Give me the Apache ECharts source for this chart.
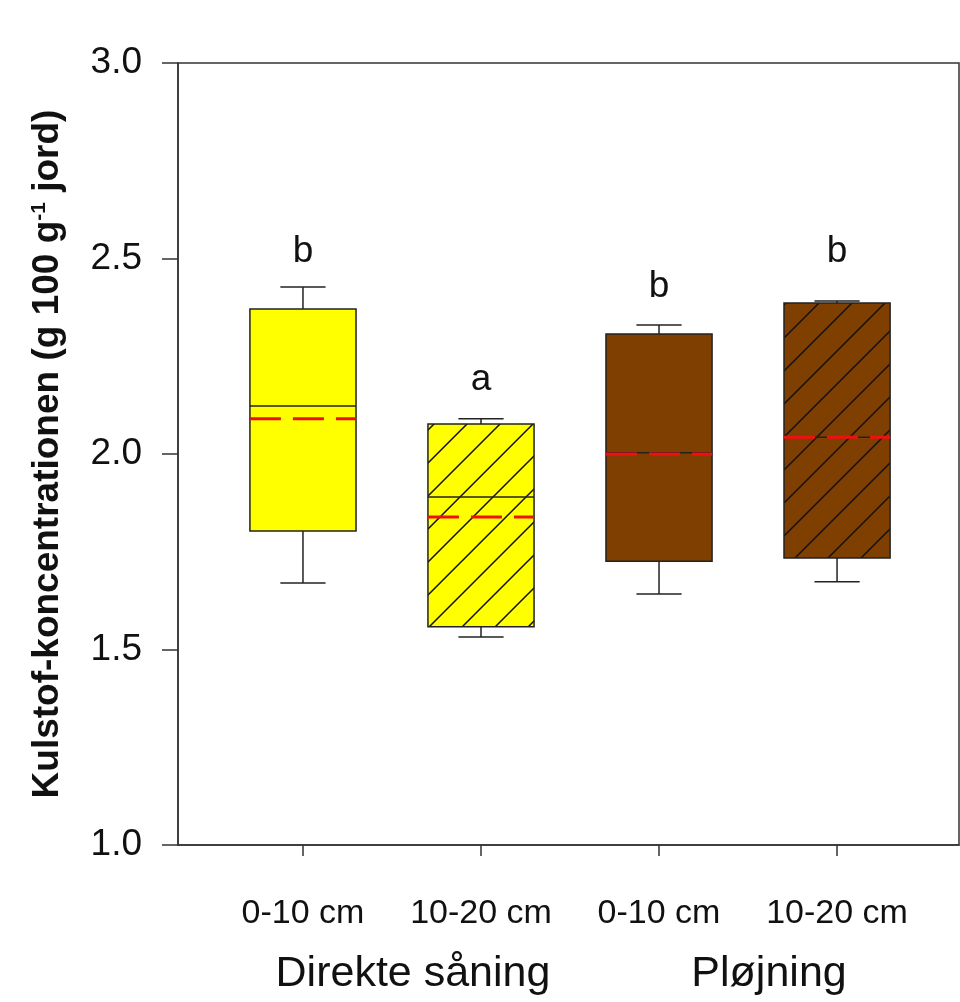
<!DOCTYPE html>
<html>
  <head>
    <meta charset="utf-8" />
    <title>Kulstof-koncentrationen</title>
    <script src="https://cdn.jsdelivr.net/npm/echarts@6/dist/echarts.min.js"></script>
    <style>
      html, body { margin: 0; padding: 0; background: #fff; }
      #main { width: 960px; height: 1002px; }
    </style>
  </head>
  <body>
    <div id="main"></div>
    <script>
        // data
        var categories = ['0-10 cm', '10-20 cm', '0-10 cm', '10-20 cm'];
        var groups = ['Direkte såning', 'Pløjning'];
        var whiskerLow  = [1.670, 1.532, 1.642, 1.673];
        var q1          = [1.803, 1.558, 1.726, 1.734];
        var median      = [2.123, 1.890, 2.003, 2.043];
        var q3          = [2.371, 2.077, 2.307, 2.386];
        var whiskerHigh = [2.427, 2.090, 2.330, 2.391];
        var mean        = [2.090, 1.839, 2.000, 2.043];
        var letters = ['b', 'a', 'b', 'b'];
        var letterY = [2.517, 2.189, 2.427, 2.517];

        var font = "'Liberation Sans', Arial, sans-serif";
        var positions = categories.map(function (c, i) { return i + 1; });
        var groupPos = [(positions[0] + positions[1]) / 2, (positions[2] + positions[3]) / 2];

        // hatch tile for the 10-20 cm boxes
        function hatch(bg) {
          var s = 33;
          var c = document.createElement('canvas');
          c.width = s; c.height = s;
          var g = c.getContext('2d');
          g.fillStyle = bg;
          g.fillRect(0, 0, s, s);
          g.strokeStyle = '#111';
          g.lineWidth = 1.5;
          g.beginPath();
          g.moveTo(-2, s + 2); g.lineTo(s + 2, -2);
          g.moveTo(-2, 2); g.lineTo(2, -2);
          g.moveTo(s - 2, s + 2); g.lineTo(s + 2, s - 2);
          g.stroke();
          return { image: c, repeat: 'repeat' };
        }
        var yellow = '#ffff00', brown = '#7f3f00';
        var fills = [yellow, hatch(yellow), brown, hatch(brown)];

        var boxData = positions.map(function (x, i) {
          return [x, whiskerLow[i], q1[i], median[i], q3[i], whiskerHigh[i], mean[i]];
        });
        var letterData = positions.map(function (x, i) { return [x, letterY[i]]; });

        var myChart = echarts.init(document.getElementById('main'));
        var axisColor = '#333';

        var option = {
          backgroundColor: '#fff',
          animation: false,
          grid: {
            left: 178, top: 63, width: 781, height: 782,
            show: true, borderColor: axisColor, borderWidth: 1.5
          },
          xAxis: [
            {
              type: 'value', min: 0.298, max: 4.685, position: 'bottom',
              axisLine: { show: true, lineStyle: { color: axisColor, width: 1.5 } },
              axisTick: { show: true, customValues: positions, length: 11, lineStyle: { color: axisColor, width: 1.5 } },
              axisLabel: {
                customValues: positions, margin: 52, fontSize: 34, fontFamily: font, color: '#111',
                formatter: function (v) { return categories[Math.round(v) - 1]; }
              },
              splitLine: { show: false }
            },
            {
              type: 'value', min: 0.298, max: 4.685, position: 'bottom',
              axisLine: { show: false }, axisTick: { show: false },
              axisLabel: {
                customValues: groupPos, margin: 108, fontSize: 43, fontFamily: font, color: '#111',
                padding: [0, 0, 0, 42],
                formatter: function (v) { return groups[v < 2.5 ? 0 : 1]; }
              },
              splitLine: { show: false }
            }
          ],
          yAxis: {
            type: 'value', min: 1, max: 3, interval: 0.5,
            name: 'Kulstof-koncentrationen (g 100 g{sup|-1} jord)',
            nameLocation: 'middle', nameGap: 112,
            nameTextStyle: {
              fontSize: 37, fontWeight: 'bold', fontFamily: font, color: '#111',
              rich: { sup: { fontSize: 21, fontWeight: 'bold', fontFamily: font, color: '#111', verticalAlign: 'top', padding: [0, 0, 15, 0] } }
            },
            axisLine: { show: true, lineStyle: { color: axisColor, width: 1.5 } },
            axisTick: { show: true, length: 16, lineStyle: { color: axisColor, width: 1.5 } },
            axisLabel: {
              margin: 36, fontSize: 37, fontFamily: font, color: '#111',
              formatter: function (v) { return v.toFixed(1); }
            },
            splitLine: { show: false }
          },
          series: [
            {
              type: 'custom',
              data: boxData,
              encode: { x: 0, y: [1, 2, 3, 4, 5, 6] },
              renderItem: function (params, api) {
                var i = params.dataIndex;
                var x = api.value(0);
                var hw = 0.298, cw = 0.127;
                var p = function (xx, yy) { return api.coord([xx, yy]); };
                var wl = api.value(1), lo = api.value(2), md = api.value(3),
                    hi = api.value(4), wh = api.value(5), mn = api.value(6);
                var lineStyle = { stroke: '#222', lineWidth: 1.5 };
                var a = p(x - hw, hi), b = p(x + hw, lo);
                function seg(p1, p2, st) {
                  return { type: 'line', shape: { x1: p1[0], y1: p1[1], x2: p2[0], y2: p2[1] }, style: st };
                }
                return {
                  type: 'group',
                  children: [
                    seg(p(x, hi), p(x, wh), lineStyle),
                    seg(p(x - cw, wh), p(x + cw, wh), lineStyle),
                    seg(p(x, lo), p(x, wl), lineStyle),
                    seg(p(x - cw, wl), p(x + cw, wl), lineStyle),
                    {
                      type: 'rect',
                      shape: { x: a[0], y: a[1], width: b[0] - a[0], height: b[1] - a[1] },
                      style: { fill: fills[i], stroke: '#222', lineWidth: 1.5 }
                    },
                    seg(p(x - hw, md), p(x + hw, md), { stroke: '#222', lineWidth: 1.5 }),
                    seg(p(x - hw, mn), p(x + hw, mn), { stroke: '#f01010', lineWidth: 3, lineDash: [31, 12] })
                  ]
                };
              }
            },
            {
              type: 'custom',
              data: letterData,
              renderItem: function (params, api) {
                var pt = api.coord([api.value(0), api.value(1)]);
                return {
                  type: 'text', x: pt[0], y: pt[1],
                  style: {
                    text: letters[params.dataIndex], fontSize: 37, fontFamily: font, fill: '#111',
                    align: 'center', verticalAlign: 'middle'
                  }
                };
              }
            }
          ]
        };

        myChart.setOption(option);
    </script>
  </body>
</html>
